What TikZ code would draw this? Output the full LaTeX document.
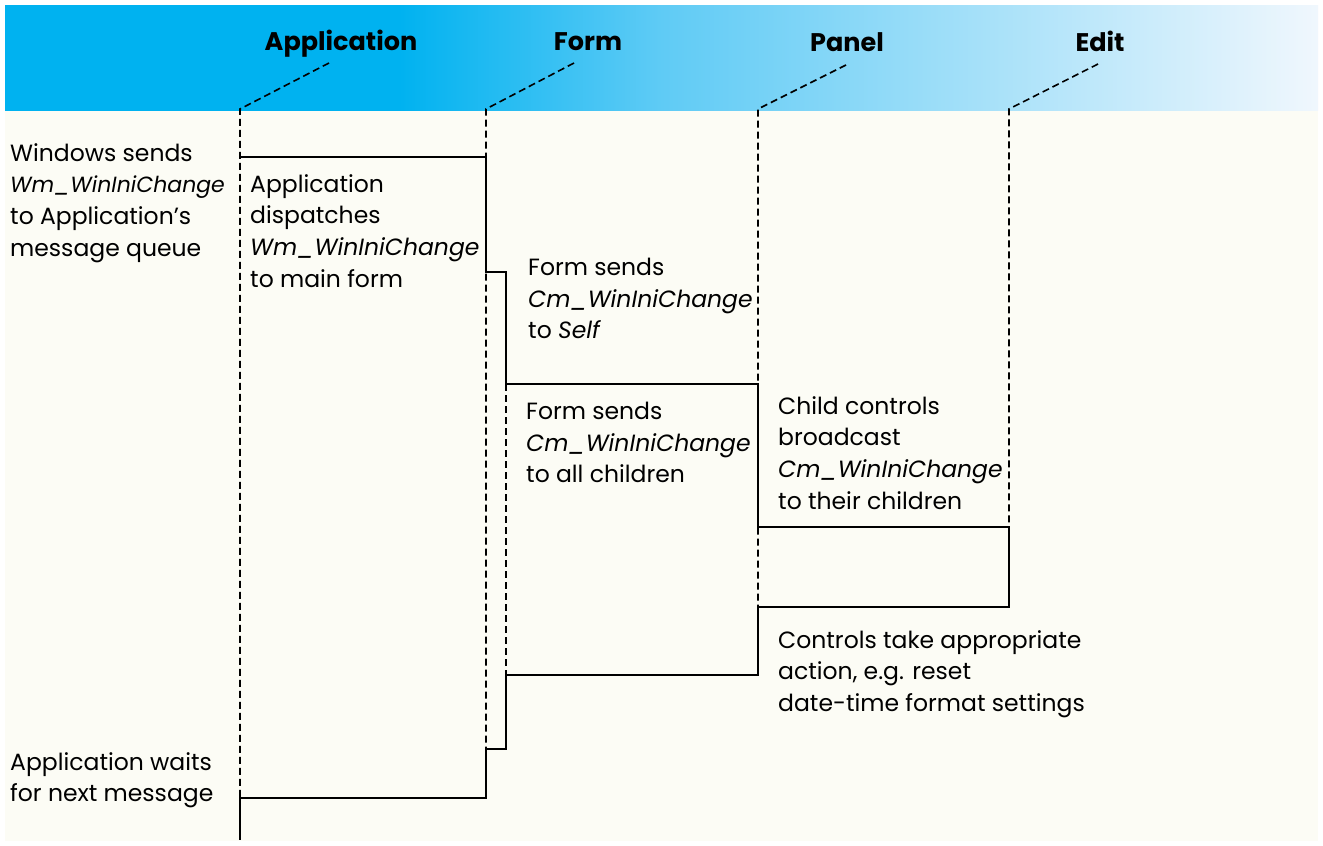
\documentclass[tikz,border=0pt]{standalone}
\usepackage{fontspec}
\setmainfont{Poppins}
\usetikzlibrary{positioning}
\definecolor{hdrcyan}{RGB}{0,178,240}
\definecolor{hdrmid}{RGB}{95,203,245}
\definecolor{hdrpale}{RGB}{240,247,253}
\definecolor{cream}{RGB}{252,252,245}
\pgfdeclarehorizontalshading{hdrfade}{100bp}{color(0bp)=(hdrcyan); color(40bp)=(hdrcyan); color(50bp)=(hdrmid); color(75bp)=(hdrpale); color(100bp)=(hdrpale)}
\tikzstyle{life} = [line width=1.6pt, dash pattern=on 7pt off 4pt]
\tikzstyle{flow} = [line width=2.2pt, line join=miter]
\tikzstyle{head} = [font=\fontsize{25.5}{28}\selectfont\bfseries, anchor=base, inner sep=0pt]
\tikzstyle{note} = [font=\fontsize{23.5}{31.7}\selectfont, align=left, anchor=north west, inner sep=0pt]

\begin{document}
\begin{tikzpicture}[x=1pt, y=-1pt]
    \useasboundingbox (0,0) rectangle (1323,846);
    \fill[white] (0,0) rectangle (1323,846);
    \fill[cream] (5,110) rectangle (1318,841);
    \shade[shading=hdrfade] (5,5) rectangle (1318,110);

    % lifelines
    \node[head] (app) at (341,50) {Application};
    \node[head] (form) at (588,50) {Form};
    \node[head] (panel) at (847,51) {Panel};
    \node[head] (edit) at (1100,51) {Edit};
    \coordinate (appT) at (240,109);
    \coordinate (formT) at (486,109);
    \coordinate (panelT) at (758,109);
    \coordinate (editT) at (1009,109);
    \coordinate[above right=46pt and 89pt of appT] (appK);
    \coordinate[above right=46pt and 88pt of formT] (formK);
    \coordinate[above right=44pt and 88pt of panelT] (panelK);
    \coordinate[above right=45pt and 89pt of editT] (editK);

    % message steps
    \coordinate (wmIn) at (240,157);
    \coordinate (selfIn) at (486,272);
    \coordinate (childIn) at (506,384);
    \coordinate (editIn) at (758,527);
    \coordinate (editOut) at (1009,607);
    \coordinate (panelOut) at (758,675);
    \coordinate (selfOut) at (506,749);
    \coordinate (formOut) at (486,798);
    \coordinate (appNext) at (240,840);

    \draw[life] (appK) -- (appT) -- (appT |- formOut);
    \draw[life] (formK) -- (formT) -- (formT |- selfOut);
    \draw[life] (panelK) -- (panelT) -- (panelT |- editOut);
    \draw[life] (editK) -- (editT) -- (editT |- editIn);
    \draw[life] (childIn) -- (childIn |- panelOut);

    \draw[flow] (wmIn) -| (selfIn) -| (childIn) -| (editIn) -| (editOut) -| (panelOut) -| (selfOut) -| (formOut) -| (appNext);

    % texts
    \node[note] (winsend) at (10,143) {Windows sends\\{\fontsize{22}{31.7}\selectfont\textit{Wm\_WinIniChange}}\\to Application’s\\message queue};
    \node[note] (dispatch) at (250,174) {Application\\dispatches\\\textit{Wm\_WinIniChange}\\to main form};
    \node[note] (toself) at (528,258) {Form sends\\\textit{Cm\_WinIniChange}\\to \textit{Self}};
    \node[note] (tochild) at (526,402) {Form sends\\\textit{Cm\_WinIniChange}\\to all children};
    \node[note] (broadcast) at (778,396) {Child controls\\broadcast\\\textit{Cm\_WinIniChange}\\to their children};
    \node[note] (action) at (778,630) {Controls take appropriate\\action, e.g. reset\\date-time format settings};
    \node[note] (wait) at (10,752) {Application waits\\for next message};

\end{tikzpicture}
\end{document}
